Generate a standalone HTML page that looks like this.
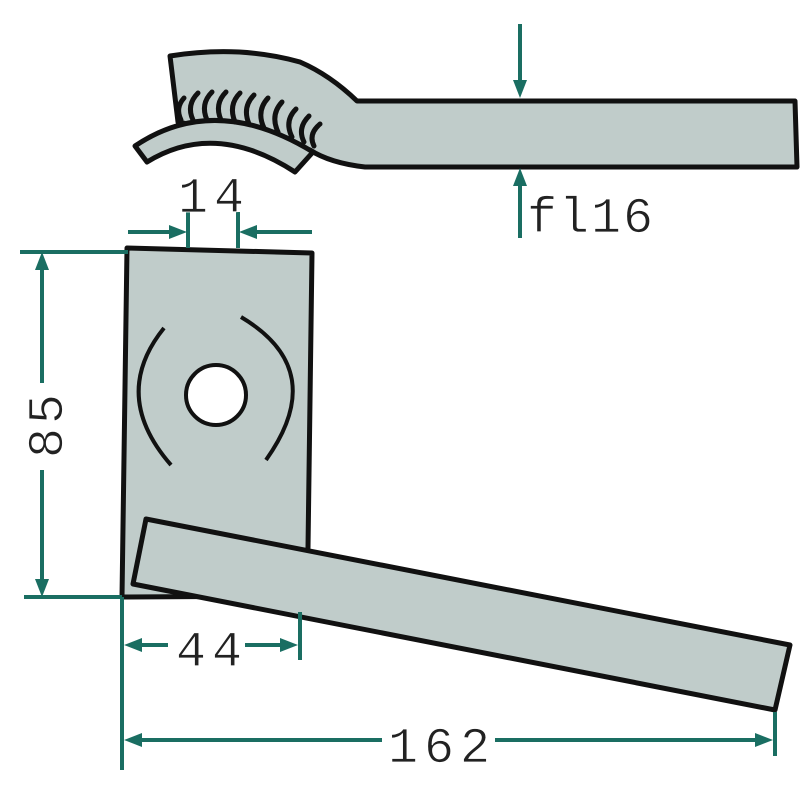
<!DOCTYPE html>
<html><head><meta charset="utf-8"><style>html,body{margin:0;padding:0;background:#fff}svg{display:block}</style></head>
<body>
<svg width="800" height="800" viewBox="0 0 800 800" xmlns="http://www.w3.org/2000/svg">
<g fill="#c0ccca" stroke="#111" stroke-width="5" stroke-linejoin="round">
<path d="M170,56 Q240,45 300,62 Q330,75 357,101 L795,101 L797,167 L365,167 Q330,163 310,150 L178,122 Z"/>
<path d="M135,146 Q215,92 313,152 L295,172 Q215,120 147,162 Z"/>
<path d="M127,248 L312,253 L308,548 L290,596 L122,597 Z"/>
<path d="M146,519 L790,645 L775,710 L133,584 Z"/>
</g>
<g fill="none" stroke="#111" stroke-width="5" stroke-linecap="round">
<path d="M184,98 q-9,10 -3,22"/><path d="M198,93 q-12,12 -5,27"/><path d="M212,92 q-12,12 -5,28"/><path d="M226,92 q-12,12 -5,28"/>
<path d="M240,93 q-12,12 -5,29"/><path d="M254,95 q-12,12 -5,29"/><path d="M268,98 q-12,13 -4,30"/><path d="M282,102 q-12,13 -4,30"/>
<path d="M296,109 q-12,12 -4,28"/><path d="M309,116 q-12,12 -5,26"/><path d="M320,124 q-12,10 -6,22"/>
</g>
<circle cx="216" cy="395" r="30" fill="#fff" stroke="#111" stroke-width="4"/>
<g fill="none" stroke="#111" stroke-width="4">
<path d="M164,328 Q110,395 171,465"/>
<path d="M241,317 Q330,370 266,460"/>
</g>
<g stroke="#1a6e62" stroke-width="4" fill="none">
<line x1="20" y1="252" x2="128" y2="252"/><line x1="24" y1="597" x2="122" y2="597"/>
<line x1="42" y1="268" x2="42" y2="383"/><line x1="42" y1="470" x2="42" y2="581"/>
<line x1="122" y1="597" x2="122" y2="770"/><line x1="300" y1="612" x2="300" y2="660"/>
<line x1="138" y1="645" x2="168" y2="645"/><line x1="245" y1="645" x2="284" y2="645"/>
<line x1="775" y1="712" x2="775" y2="756"/>
<line x1="138" y1="740" x2="382" y2="740"/><line x1="495" y1="740" x2="759" y2="740"/>
<line x1="188" y1="212" x2="188" y2="248"/><line x1="238" y1="212" x2="238" y2="248"/>
<line x1="128" y1="232" x2="172" y2="232"/><line x1="254" y1="232" x2="312" y2="232"/>
<line x1="520" y1="24" x2="520" y2="84"/><line x1="520" y1="182" x2="520" y2="238"/>
</g>
<g fill="#1a6e62">
<polygon points="42,252 35,270 49,270"/><polygon points="42,597 35,579 49,579"/>
<polygon points="124,645 142,638 142,652"/><polygon points="298,645 280,638 280,652"/>
<polygon points="124,740 142,733 142,747"/><polygon points="773,740 755,733 755,747"/>
<polygon points="187,232 169,225 169,239"/><polygon points="239,232 257,225 257,239"/>
<polygon points="520,98 513,80 527,80"/><polygon points="520,168 513,186 527,186"/>
</g>
<g font-family="Liberation Mono, monospace" font-size="50" fill="#222" stroke="#fff" stroke-width="0.8">
<text x="178" y="212" letter-spacing="6">14</text>
<text x="527" y="232" letter-spacing="2">fl16</text>
<text x="176" y="666" letter-spacing="6">44</text>
<text x="388" y="762" letter-spacing="6">162</text>
<text transform="translate(62,458) rotate(-90)" letter-spacing="4">85</text>
</g>
</svg>
</body></html>
